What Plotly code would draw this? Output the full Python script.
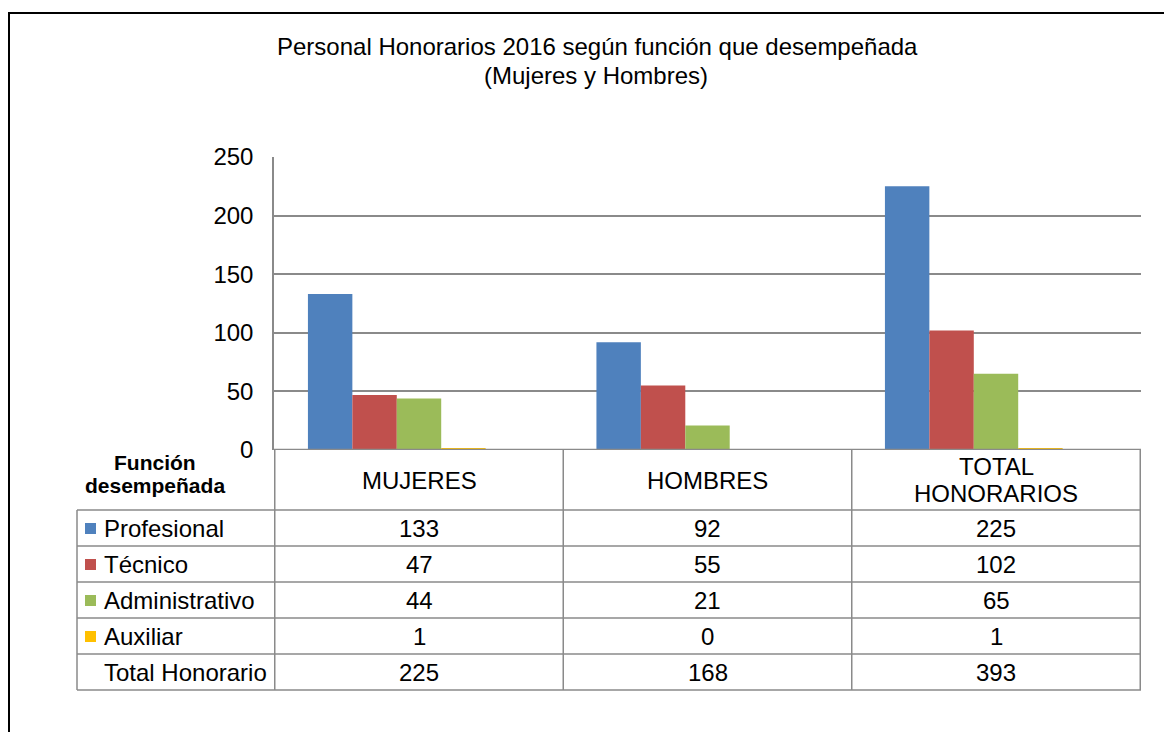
import plotly.graph_objects as go

# data
categories = ["MUJERES", "HOMBRES", "TOTAL HONORARIOS"]
series_names = ["Profesional", "Técnico", "Administrativo", "Auxiliar", "Total Honorario"]
profesional = [133, 92, 225]
tecnico = [47, 55, 102]
administrativo = [44, 21, 65]
auxiliar = [1, 0, 1]
total_honorario = [225, 168, 393]

colors = ["#4F81BD", "#C0504D", "#9BBB59", "#FFC000", "rgba(0,0,0,0)"]
values = [profesional, tecnico, administrativo, auxiliar, total_honorario]

OFF = 8  # page body margin
W, H = 1172 - OFF, 732 - OFF
L, R, T, B = 274, 1141, 157, 450  # plot area in window pixels
GRID = "#8a8a8a"
FONT = "Arial, Liberation Sans, sans-serif"
FS = 24


def px(x):
    return (x - L) / (R - L)


def py(y):
    return (B - y) / (B - T)


def note(x, y, text, xref="paper", size=FS, xanchor="center"):
    return dict(x=x, y=py(y), xref=xref, yref="paper", text=text, showarrow=False,
                xanchor=xanchor, yanchor="middle", font=dict(size=size))


fig = go.Figure()
for name, vals, col in zip(series_names, values, colors):
    fig.add_trace(go.Bar(
        x=categories, y=vals, name=name, marker_color=col,
        marker_line_width=0, showlegend=False,
        hoverinfo="skip" if name == "Total Honorario" else None,
    ))

shapes = []
annotations = []

# outer chart frame
shapes.append(dict(type="rect", xref="paper", yref="paper",
                   x0=px(9), x1=px(1190), y0=py(13), y1=py(750),
                   line=dict(color="black", width=2)))

# category axis line drawn over the bars (hides the 1-unit Auxiliar bars like Excel)
shapes.append(dict(type="line", xref="paper", yref="y", x0=0, x1=1, y0=0, y1=0,
                   layer="above", line=dict(color=GRID, width=2.6)))

# data table grid
row_edges = [510, 546, 582, 618, 654, 690]
col_edges = [-0.5, 0.5, 1.5, 2.5]
for ce in col_edges:
    shapes.append(dict(type="line", xref="x", yref="paper", x0=ce, x1=ce,
                       y0=py(450), y1=py(690), line=dict(color=GRID, width=1.5)))
shapes.append(dict(type="line", xref="paper", yref="paper", x0=px(77), x1=px(77),
                   y0=py(510), y1=py(690), line=dict(color=GRID, width=1.5)))
for re_ in row_edges:
    shapes.append(dict(type="line", xref="paper", yref="paper", x0=px(77), x1=1,
                       y0=py(re_), y1=py(re_), line=dict(color=GRID, width=1.5)))

# header row
for c in categories:
    parts = c.split(" ")
    if len(parts) == 1:
        annotations.append(note(c, 480, c, xref="x"))
    else:
        for i, p in enumerate(parts):
            annotations.append(note(c, 466 + 27 * i, p, xref="x"))
for i, p in enumerate(["Función", "desempeñada"]):
    annotations.append(note(px(155), 462 + 23 * i, "<b>%s</b>" % p, size=21))

# table body
for r, (name, vals, col) in enumerate(zip(series_names, values, colors)):
    yc = (row_edges[r] + row_edges[r + 1]) / 2
    if name != "Total Honorario":
        shapes.append(dict(type="rect", xref="paper", yref="paper",
                           x0=px(85), x1=px(96), y0=py(yc - 5), y1=py(yc + 6),
                           fillcolor=col, line=dict(width=0)))
    annotations.append(note(px(102), yc, name, xanchor="left"))
    for c, v in zip(categories, vals):
        annotations.append(note(c, yc, str(v), xref="x"))

# title
annotations.append(note(px(597), 47, "Personal Honorarios 2016 según función que desempeñada"))
annotations.append(note(px(596), 75, "(Mujeres y Hombres)"))

fig.update_layout(
    width=W, height=H,
    margin=dict(l=L - OFF, r=W - (R - OFF), t=T - OFF, b=H - (B - OFF), pad=0),
    paper_bgcolor="white", plot_bgcolor="white",
    font=dict(family=FONT, color="black", size=FS),
    barmode="group", bargap=0.23, bargroupgap=0,
    showlegend=False,
    shapes=shapes, annotations=annotations,
)
fig.update_xaxes(showticklabels=False, showgrid=False, showline=False, ticks="")
fig.update_yaxes(range=[0, 250], dtick=50, showgrid=True, gridcolor=GRID,
                 gridwidth=1.5, showline=True, linecolor=GRID, linewidth=1.5,
                 zeroline=False, ticks="", ticklabelstandoff=14,
                 tickfont=dict(size=FS))

fig.write_html("out.html")
